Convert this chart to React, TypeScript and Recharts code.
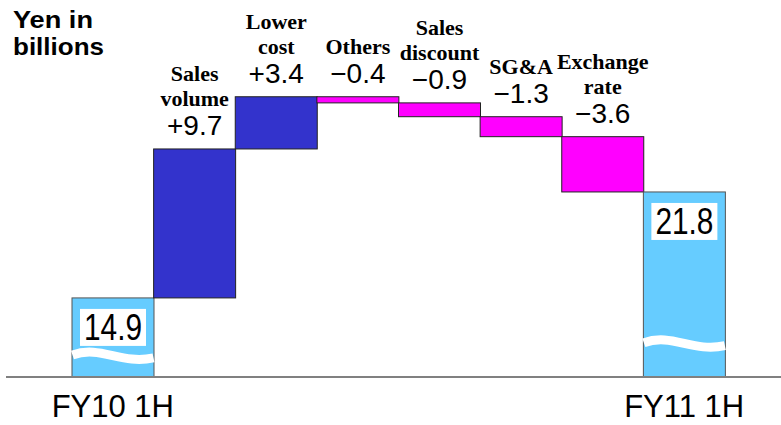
import React from 'react';
import { BarChart, Bar, XAxis, YAxis, LabelList } from 'recharts';

const categories = ['FY10 1H', 'Sales volume', 'Lower cost', 'Others', 'Sales discount', 'SG&A', 'Exchange rate', 'FY11 1H'];
const changes = [14.9, 9.7, 3.4, -0.4, -0.9, -1.3, -3.6, 21.8];
const isTotal = [true, false, false, false, false, false, false, true];
const tickLabels = ['FY10 1H', '', '', '', '', '', '', 'FY11 1H'];

// the value axis is broken, so it starts above zero
const AXIS_BREAK = 9.75;
const AXIS_TOP = 34.3;

const COLORS: Record<string, string> = { total: '#66CCFF', up: '#3333CC', down: '#FF00FF' };
const SANS = "'Liberation Sans', Arial, sans-serif";
const SERIF = "'Liberation Serif', 'Times New Roman', serif";

let level = 0;
const data = categories.map((name, i) => {
  const v = changes[i];
  if (isTotal[i]) {
    level = v;
    return { name, change: v, kind: 'total', range: [AXIS_BREAK, v] };
  }
  const start = level;
  level = Math.round((level + v) * 10) / 10;
  return { name, change: v, kind: v >= 0 ? 'up' : 'down', range: [Math.min(start, level), Math.max(start, level)] };
});

const fmt = (v: number) => (v >= 0 ? '+' : '\u2212') + Math.abs(v).toFixed(1);

const WaterfallBar = (props: any) => {
  const { x, y, width, height, payload } = props;
  if (payload.kind !== 'total') {
    return <rect x={x} y={y} width={width} height={height} fill={COLORS[payload.kind]} stroke="#222" strokeWidth={1} />;
  }
  const bottom = y + height;
  const wy = bottom - (13 + 0.115 * height);
  const cx = x + width / 2;
  const boxW = 66;
  const boxH = 37;
  return (
    <g>
      <rect x={x} y={y} width={width} height={height} fill={COLORS.total} stroke="#555" strokeWidth={1} />
      <path
        d={`M${x + 0.5},${wy} C${x + width * 0.35},${wy - 10} ${x + width * 0.6},${wy + 10} ${x + width - 0.5},${wy + 3}`}
        stroke="#fff"
        strokeWidth={9}
        fill="none"
      />
      <rect x={cx - boxW / 2} y={y + 11} width={boxW} height={boxH} fill="#fff" />
      <text x={cx} y={y + 11 + 31} textAnchor="middle" fontFamily={SANS} fontSize={36} textLength={58} lengthAdjust="spacingAndGlyphs" fill="#000">
        {payload.change.toFixed(1)}
      </text>
    </g>
  );
};

const StepLabel = (props: any) => {
  const { x, y, width, index } = props;
  const d = data[index];
  if (!d || d.kind === 'total') return <g />;
  const cx = x + width / 2;
  const valueY = y - 14;
  const lines = d.name.split(' ');
  return (
    <g>
      {lines.map((line: string, i: number) => (
        <text key={i} x={cx} y={valueY - 29 - (lines.length - 1 - i) * 25} textAnchor="middle" fontFamily={SERIF} fontWeight="bold" fontSize={22} fill="#000">
          {line}
        </text>
      ))}
      <text x={cx} y={valueY} textAnchor="middle" fontFamily={SANS} fontSize={28} fill="#000">
        {fmt(d.change)}
      </text>
    </g>
  );
};

const CategoryTick = (props: any) => {
  const { x, payload } = props;
  const label = tickLabels[categories.indexOf(payload.value)];
  if (!label) return <g />;
  return (
    <text x={x} y={417} textAnchor="middle" fontFamily={SANS} fontSize={31} fill="#000">
      {label}
    </text>
  );
};

const App: React.FC = () => {
  return (
    <div style={{ position: 'absolute', left: 0, top: 0, width: 781, height: 425, background: '#fff' }}>
      <BarChart width={781} height={425} data={data} margin={{ top: 0, right: 0, left: 6, bottom: 0 }} barCategoryGap={0}>
        <XAxis
          dataKey="name"
          interval={0}
          height={48}
          padding={{ left: 66, right: 56 }}
          axisLine={{ stroke: '#808080', strokeWidth: 2 }}
          tickLine={false}
          tick={<CategoryTick />}
        />
        <YAxis hide type="number" domain={[AXIS_BREAK, AXIS_TOP]} />
        <Bar dataKey="range" shape={<WaterfallBar />} isAnimationActive={false}>
          <LabelList dataKey="change" content={<StepLabel />} />
        </Bar>
      </BarChart>
      <svg width={200} height={70} style={{ position: 'absolute', left: 0, top: 0 }}>
        <text x={13} y={28} fontFamily={SANS} fontWeight="bold" fontSize={24} textLength={80} lengthAdjust="spacingAndGlyphs" fill="#000">
          Yen in
        </text>
        <text x={13} y={55} fontFamily={SANS} fontWeight="bold" fontSize={24} textLength={91} lengthAdjust="spacingAndGlyphs" fill="#000">
          billions
        </text>
      </svg>
    </div>
  );
};

export default App;
